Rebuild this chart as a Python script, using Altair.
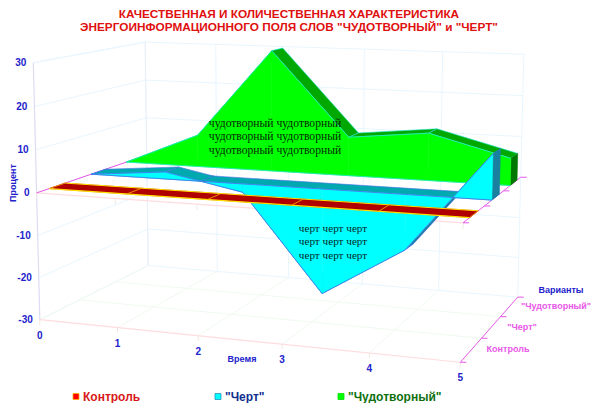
import altair as alt
import numpy as np
import pandas as pd

time_ticks = [0, 1, 2, 3, 4, 5]
pct_ticks = [30, 20, 10, 0, -10, -20, -30]
control = [0, 0, 0, 0, 0, 0]
chert = [0, 1.7, -2, -25, -13, 10.5]
chudo = [0, 8, 30, 9.5, 11.5, 6.5]
title_lines = ['КАЧЕСТВЕННАЯ И КОЛИЧЕСТВЕННАЯ ХАРАКТЕРИСТИКА',
               'ЭНЕРГОИНФОРМАЦИОННОГО ПОЛЯ СЛОВ "ЧУДОТВОРНЫЙ" и "ЧЕРТ"']

# camera fitted to the frame of the 3D box
refs = [((0,0,-30),(40,320)),((1,0,-30),(118,328)),((2,0,-30),(198,336)),((3,0,-30),(282,345)),
        ((4,0,-30),(369,353)),((5,0,-30),(460,362)),((5,3,-30),(518,297)),((0,3,-30),(148,265)),
        ((0,0,30),(33,62)),((0,3,30),(145,43)),((5,3,30),(524,54)),((5,0,30),(466,80)),
        ((0,0,0),(37,192)),((5,0,0),(463,222))]
A, b = [], []
for (X, Y, Z), (u, v) in refs:
    A.append([X,Y,Z,1,0,0,0,0,-u*X,-u*Y,-u*Z]); b.append(u)
    A.append([0,0,0,0,X,Y,Z,1,-v*X,-v*Y,-v*Z]); b.append(v)
M = np.append(np.linalg.lstsq(np.array(A,float), np.array(b,float), rcond=None)[0], 1).reshape(3,4)

def P(t, v, p):
    q = M @ np.array([t, v, p, 1.0])
    return (q[0]/q[2], q[1]/q[2])

XS = alt.Scale(domain=[8, 592], nice=False, zero=False)
YS = alt.Scale(domain=[403, 8], nice=False, zero=False)
layers = []

def poly(pts, fill, stroke=None, sw=0.5):
    xs = sorted(set(round(p[0], 3) for p in pts))
    rows = []
    n = len(pts)
    eps = 1e-3
    samples = []
    for x in xs:
        samples += [x - eps, x + eps]
    for x in samples:
        cr = []
        for i in range(n):
            a, c = pts[i], pts[(i+1) % n]
            if (a[0]-x)*(c[0]-x) < 0:
                cr.append(a[1] + (c[1]-a[1])*(x-a[0])/(c[0]-a[0]))
        if len(cr) >= 2:
            rows.append({'x': x, 'y': min(cr), 'y2': max(cr)})
    if not rows:
        return
    layers.append(alt.Chart(pd.DataFrame(rows)).mark_area(fill=fill, stroke=stroke or fill, strokeWidth=sw).encode(
        x=alt.X('x:Q', scale=XS, axis=None), y=alt.Y('y:Q', scale=YS, axis=None), y2='y2:Q'))

def line(pts, color, sw=1.0):
    df = pd.DataFrame([{'x': p[0], 'y': p[1], 'i': i} for i, p in enumerate(pts)])
    layers.append(alt.Chart(df).mark_line(color=color, strokeWidth=sw).encode(
        x=alt.X('x:Q', scale=XS, axis=None), y=alt.Y('y:Q', scale=YS, axis=None), order='i:Q'))

def text(x, y, s, size=10, color='#2222cc', bold=True, font='Liberation Sans', align='center', angle=0):
    df = pd.DataFrame([{'x': x, 'y': y, 't': s}])
    layers.append(alt.Chart(df).mark_text(font=font, fontSize=size, color=color, align=align, baseline='middle',
                                          fontWeight='bold' if bold else 'normal', angle=angle).encode(
        x=alt.X('x:Q', scale=XS, axis=None), y=alt.Y('y:Q', scale=YS, axis=None), text='t:N'))

# frame
WALL = '#e8f6ff'; FLOOR = '#f0faf0'; EDGE = '#ffdcdf'
for p in pct_ticks:
    line([P(0,0,p), P(0,3,p), P(5,3,p)], WALL)
for t in time_ticks:
    line([P(t,3,-30), P(t,3,30)], WALL)
    line([P(t,0,-30), P(t,3,-30)], FLOOR)
for v in [1, 2]:
    line([P(0,v,-30), P(5,v,-30)], FLOOR)
line([P(0,0,30), P(0,3,30)], WALL)
line([P(0,3,-30), P(0,3,30)], '#e8eef8')
line([P(0,0,-30), P(0,0,30)], '#dcdcf4', 1.2)
line([P(0,0,-30), P(5,0,-30)], EDGE, 1.2)
line([P(0,0,0), P(5,0,0)], EDGE, 1.2)
for t in time_ticks:
    a = P(t,0,-30); line([a, (a[0], a[1]+5)], '#f0e8e0')
    a = P(t,0,0); line([a, (a[0], a[1]+6)], '#f0e8e0')
PINK = '#e858e8'
line([P(5,0,-30), P(5,3,-30)], PINK)
line([P(5,0,0), P(5,3,0)], PINK)
line([P(0,0,0), P(0,3,0)], PINK)
for v in [0, 1, 2, 3]:
    for pz in (-30, 0):
        a = P(5,v,pz); line([a, (a[0]+6, a[1])], PINK)

def ribbon(vals, vf, vb, front, top_col, under_col, side, base=None, edge=None):
    def top(t0, a, t1, c, col):
        poly([P(t0,vf,a), P(t1,vf,c), P(t1,vb,c), P(t0,vb,a)], col, edge, 0.6)
    # parts of the top surface below zero lie under the base plate
    for i in range(5):
        a, c = vals[i], vals[i+1]
        if a < 0 and c < 0:
            top(i, a, i+1, c, under_col)
        elif a*c < 0:
            tc = i + a/(a-c)
            if a < 0:
                top(i, a, tc, 0, under_col)
            else:
                top(tc, 0, i+1, c, under_col)
    if base:
        poly([P(0,vf,0), P(5,vf,0), P(5,vb,0), P(0,vb,0)], base, edge, 0.6)
    for i in range(5):
        a, c = vals[i], vals[i+1]
        if a >= 0 and c >= 0:
            top(i, a, i+1, c, top_col)
        elif a*c < 0:
            tc = i + a/(a-c)
            if a > 0:
                top(i, a, tc, 0, top_col)
            else:
                top(tc, 0, i+1, c, top_col)
    poly([P(5,vf,vals[5]), P(5,vb,vals[5]), P(5,vb,0), P(5,vf,0)], side)
    for i in range(5):
        a, c = vals[i], vals[i+1]
        if a*c < 0:
            tc = i + a/(a-c)
            poly([P(i,vf,0), P(tc,vf,0), P(i,vf,a)], front)
            poly([P(tc,vf,0), P(i+1,vf,0), P(i+1,vf,c)], front)
        else:
            poly([P(i,vf,0), P(i+1,vf,0), P(i+1,vf,c), P(i,vf,a)], front)
    if edge:
        line([P(i,vf,vals[i]) for i in range(6)], edge, 0.8)
        line([P(0,vf,0), P(5,vf,0)], edge, 0.8)

ribbon(chudo, 2.38, 2.78, '#00ff00', '#00a800', '#00a800', '#007800', edge='#20e8d0')
ribbon(chert, 1.38, 1.78, '#00ffff', '#00a8b0', '#1a80a0', '#1a80a0', base='#00a8b0', edge='#4a70e8')

# control ribbon
poly([P(0,0.3,control[0]), P(5,0.3,control[5]), P(5,0.7,control[5]), P(0,0.7,control[0])], '#b00000')
line([P(0,0.3,0), P(5,0.3,0)], '#ffe000', 1.2)
line([P(0,0.7,0), P(5,0.7,0)], '#ffe000', 1.0)
for t in time_ticks:
    line([P(t,0.3,0), P(t,0.7,0)], '#f0a000', 0.9)

# texts
for i, s in enumerate(title_lines):
    text(289, [14, 27][i], s, size=11.8, color='#e01010')
for i in range(3):
    text(275, 123.5 + i*13.6, 'чудотворный чудотворный', size=11.6, color='#042a04', bold=False, font='Liberation Serif')
    text(333, 228.5 + i*13.6, 'черт черт черт', size=11.2, color='#042a2a', bold=False, font='Liberation Serif')
for t in time_ticks:
    a = P(t,0,-30)
    text(a[0], a[1]+16, str(t))
for p in pct_ticks:
    a = P(0,0,p)
    text(a[0]-7, a[1], str(p), align='right')
text(13, 183, 'Процент', size=9, angle=270)
text(242, 359, 'Время', size=9)
text(561, 290, 'Варианты', size=9)
text(556, 306, '"Чудотворный"', size=9, color=PINK)
text(522, 327, '"Черт"', size=9, color=PINK)
text(508, 349, 'Контроль', size=9, color=PINK)

# legend
for cx, col, edge, lab, lc, lx in [(76,'#ff0000','#ffb000','Контроль','#d81818',83),
                                   (218,'#00ffff','#2090c0','"Черт"','#103090',225),
                                   (341,'#00ff00','#00e000','"Чудотворный"','#107010',348)]:
    s = 3
    poly([(cx-s,396.5-s),(cx+s,396.5-s),(cx+s,396.5+s),(cx-s,396.5+s)], col, edge, 0.8)
    text(lx, 396.5, lab, size=12, color=lc, align='left')

chart = alt.layer(*layers).properties(width=584, height=395, padding=0, autosize='none').configure_view(stroke=None)
chart.save("out.html", embed_options={"renderer": "svg", "actions": False})
